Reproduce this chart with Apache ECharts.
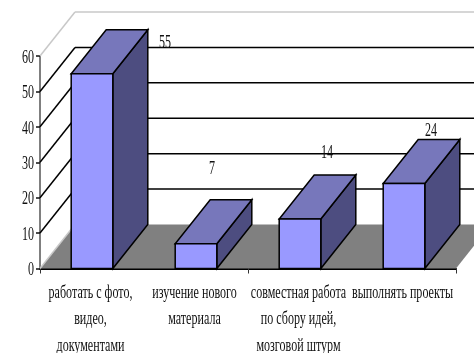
<!DOCTYPE html>
<html>
<head>
<meta charset="utf-8">
<style>html,body{margin:0;padding:0;background:#fff}#chart{width:474px;height:353px}</style>
<script src="https://cdn.jsdelivr.net/npm/echarts@6/dist/echarts.min.js"></script>
</head>
<body>
<div id="chart"></div>
<script>
const categories = [
  'работать с фото,\nвидео,\nдокументами',
  'изучение нового\nматериала',
  'совместная работа\nпо сбору идей,\nмозговой штурм',
  'выполнять проекты'
];
const values = [55, 7, 14, 24];
const yTicks = [0, 10, 20, 30, 40, 50, 60];

// Hand-placed value labels, as pixel offsets from the bar's front top centre
const labelShiftX = [73, 16, 27, 27];
const labelShiftY = [-30, -74, -66, -52];

// Oblique projection of the chart's depth
const DX = 35, DY = -44;
const FONT = '18px "Liberation Serif"';
const SQUEEZE = 0.67;

const line = (x1, y1, x2, y2, stroke, lineWidth) => ({
  type: 'line', shape: {x1, y1, x2, y2}, style: {stroke, lineWidth}
});
const poly = (points, fill, stroke, lineWidth) => ({
  type: 'polygon', shape: {points}, style: {fill, stroke, lineWidth, lineJoin: 'miter'}
});
const squeezedText = (text, x, y, align, verticalAlign, lineHeight) => ({
  type: 'text', x, y, scaleX: SQUEEZE, z2: 10,
  style: {text, font: FONT, fill: '#111', align, verticalAlign, lineHeight}
});

const chart = echarts.init(document.getElementById('chart'), null, {renderer: 'canvas'});

chart.setOption({
  animation: false,
  backgroundColor: '#fff',
  grid: {left: 40, top: 56, width: 416, height: 212.5},
  xAxis: {
    type: 'category', data: categories,
    axisLine: {lineStyle: {color: '#000', width: 2}},
    axisTick: {show: true, length: 5, lineStyle: {color: '#333', width: 1}},
    axisLabel: {show: false}, splitLine: {show: false}
  },
  yAxis: {
    type: 'value', min: 0, max: 60, interval: 10,
    axisLine: {show: true, lineStyle: {color: '#555', width: 1.5}},
    axisTick: {show: true, length: 4, lineStyle: {color: '#111', width: 1.5}},
    axisLabel: {show: false}, splitLine: {show: false}
  },
  series: [
    {
      // Floor of the box, drawn once behind everything else
      type: 'custom', z: 1, silent: true, data: [0],
      renderItem(params, api) {
        const cs = params.coordSys;
        const b = cs.y + cs.height, l = cs.x, r = cs.x + cs.width;
        return poly([[l, b], [r, b], [r + DX, b + DY], [l + DX, b + DY]], '#808080', 'none', 0);
      }
    },
    {
      // Wall gridlines: a diagonal from the axis, then a horizontal across the back
      type: 'custom', z: 2, silent: true, data: yTicks,
      renderItem(params, api) {
        const v = api.value(0);
        const cs = params.coordSys;
        const y = api.coord([0, v])[1];
        const l = cs.x, r = cs.x + cs.width + DX;
        const isTop = v === 60, isBase = v === 0;
        const color = isTop || isBase ? '#c8c8c8' : '#000';
        const children = [line(l, y, l + DX, y + DY, color, 1.5)];
        if (!isBase) children.push(line(l + DX, y + DY, r, y + DY, color, 1.5));
        return {type: 'group', children};
      },
      encode: {y: 0}
    },
    {
      // Extruded bars
      type: 'custom', z: 3, silent: true,
      data: values.map((v, i) => [i, v]),
      encode: {x: 0, y: 1},
      renderItem(params, api) {
        const i = api.value(0), v = api.value(1);
        const top = api.coord([i, v]);
        const base = api.coord([i, 0]);
        const half = api.size([1, 0])[0] * 0.2;
        const l = top[0] - half, r = top[0] + half, t = top[1], b = base[1];
        return {
          type: 'group',
          children: [
            poly([[r, t], [r + DX, t + DY], [r + DX, b + DY], [r, b]], '#4d4d80', '#000', 1.5),
            poly([[l, t], [r, t], [r + DX, t + DY], [l + DX, t + DY]], '#7777bb', '#000', 1.5),
            poly([[l, t], [r, t], [r, b], [l, b]], '#9999ff', '#000', 1.5)
          ]
        };
      }
    },
    {
      // Value labels above the bars
      type: 'custom', z: 4, silent: true,
      data: values.map((v, i) => [i, v]),
      encode: {x: 0, y: 1},
      renderItem(params, api) {
        const i = api.value(0), v = api.value(1);
        const p = api.coord([i, v]);
        return squeezedText(String(v), p[0] + labelShiftX[i], p[1] + labelShiftY[i], 'center', 'middle');
      }
    },
    {
      // Value-axis tick labels
      type: 'custom', z: 4, silent: true, data: yTicks, encode: {y: 0},
      renderItem(params, api) {
        const v = api.value(0);
        const y = api.coord([0, v])[1];
        return squeezedText(String(v), 34, y + 2, 'right', 'middle');
      }
    },
    {
      // Category labels under the axis
      type: 'custom', z: 4, silent: true,
      data: categories.map((c, i) => [i, 0]),
      encode: {x: 0, y: 1},
      renderItem(params, api) {
        const i = api.value(0);
        const x = api.coord([i, 0])[0] - 1.5;
        return squeezedText(categories[i], x, 280, 'center', 'top', 26.5);
      }
    }
  ]
});
</script>
</body>
</html>
